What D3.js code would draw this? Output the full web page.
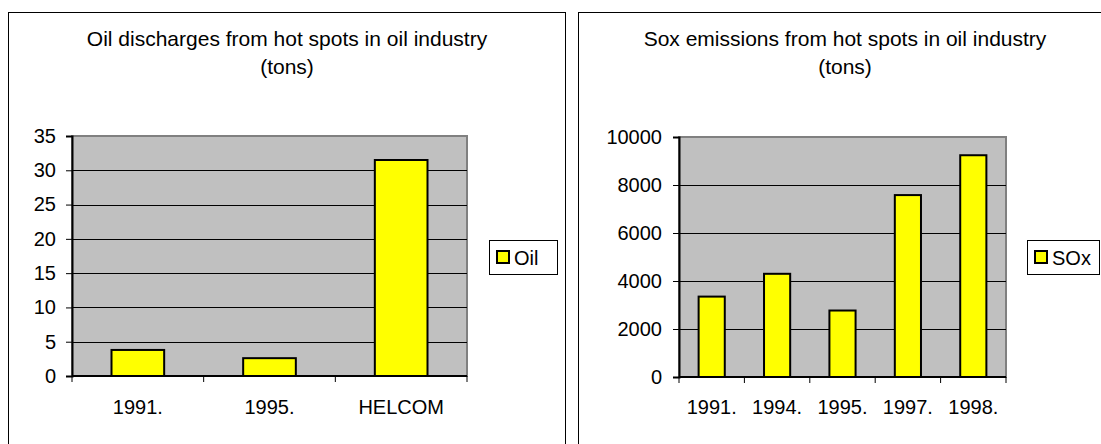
<!DOCTYPE html>
<html>
<head>
<meta charset="utf-8">
<script src="https://cdn.jsdelivr.net/npm/d3@7"></script>
<style>
  body { margin: 0; background: #fff; }
  text { font-family: "Liberation Sans", Arial, sans-serif; fill: #000; }
</style>
</head>
<body>
<svg id="chart" width="1101" height="444"></svg>
<script>
// oil discharges (tons)
const oilCategories = ["1991.", "1995.", "HELCOM"];
const oilValues = [3.8, 2.6, 31.5];
const oilTicks = [0, 5, 10, 15, 20, 25, 30, 35];
const oilTitle = ["Oil discharges from hot spots in oil industry", "(tons)"];
const oilLegend = "Oil";

// sox emissions (tons)
const soxCategories = ["1991.", "1994.", "1995.", "1997.", "1998."];
const soxValues = [3350, 4300, 2770, 7580, 9240];
const soxTicks = [0, 2000, 4000, 6000, 8000, 10000];
const soxTitle = ["Sox emissions from hot spots in oil industry", "(tons)"];
const soxLegend = "SOx";

const svg = d3.select("#chart");
svg.append("rect").attr("width", 1101).attr("height", 444).attr("fill", "#fff");

function drawPanel(opt) {
    const g = svg.append("g");

    // outer frame (bottom edge is off the picture)
    g.append("rect")
        .attr("x", opt.frame[0] + 0.5).attr("y", 12.5)
        .attr("width", opt.frame[1] - opt.frame[0]).attr("height", 460)
        .attr("fill", "none").attr("stroke", "#000").attr("stroke-width", 1);

    // title
    opt.title.forEach((t, i) => {
        g.append("text")
            .attr("x", opt.titleX).attr("y", 46 + i * 28)
            .attr("text-anchor", "middle")
            .style("font-size", "21px")
            .text(t);
    });

    const x = d3.scaleBand()
        .domain(opt.categories)
        .range([opt.plot.left, opt.plot.right])
        .paddingInner(0.6).paddingOuter(0.3);

    const y = d3.scaleLinear()
        .domain([0, opt.ticks[opt.ticks.length - 1]])
        .range([opt.plot.bottom, opt.plot.top]);

    // plot area
    g.append("rect")
        .attr("x", opt.plot.left).attr("y", opt.plot.top)
        .attr("width", opt.plot.right - opt.plot.left)
        .attr("height", opt.plot.bottom - opt.plot.top)
        .attr("fill", "#c0c0c0").attr("stroke", "#808080").attr("stroke-width", 2);

    // gridlines
    g.selectAll(".grid").data(opt.ticks.slice(1, -1)).enter().append("line")
        .attr("x1", opt.plot.left).attr("x2", opt.plot.right)
        .attr("y1", d => Math.round(y(d)) + 0.5).attr("y2", d => Math.round(y(d)) + 0.5)
        .attr("stroke", "#000").attr("stroke-width", 1);

    // bars
    g.selectAll(".bar").data(opt.values).enter().append("rect")
        .attr("x", (d, i) => x(opt.categories[i]))
        .attr("y", d => y(d))
        .attr("width", x.bandwidth())
        .attr("height", d => opt.plot.bottom - y(d))
        .attr("fill", "#ffff00").attr("stroke", "#000").attr("stroke-width", 2);

    // y axis
    const yAxis = d3.axisLeft(y).tickValues(opt.ticks).tickFormat(d3.format("d"))
        .tickSize(6).tickPadding(opt.tickPad);
    const ya = g.append("g")
        .attr("transform", "translate(" + opt.plot.left + ",0)")
        .call(yAxis);
    ya.select(".domain").attr("stroke", "#000").attr("stroke-width", 2);
    ya.selectAll("text").style("font-size", "20px");

    // x axis: ticks at category boundaries
    const step = (opt.plot.right - opt.plot.left) / opt.categories.length;
    const bounds = d3.range(opt.categories.length + 1).map(i => opt.plot.left + i * step);
    const xa = g.append("g");
    xa.append("line")
        .attr("x1", opt.plot.left).attr("x2", opt.plot.right)
        .attr("y1", opt.plot.bottom).attr("y2", opt.plot.bottom)
        .attr("stroke", "#000").attr("stroke-width", 2);
    xa.selectAll(".xt").data(bounds).enter().append("line")
        .attr("x1", d => d).attr("x2", d => d)
        .attr("y1", opt.plot.bottom).attr("y2", opt.plot.bottom + 6)
        .attr("stroke", "#000").attr("stroke-width", 1);
    xa.selectAll(".xl").data(opt.categories).enter().append("text")
        .attr("x", d => x(d) + x.bandwidth() / 2)
        .attr("y", 414)
        .attr("text-anchor", "middle")
        .style("font-size", "20px")
        .text(d => d);

    // legend
    const lg = g.append("g");
    lg.append("rect")
        .attr("x", opt.legend[0] + 0.5).attr("y", 240.5)
        .attr("width", opt.legend[1]).attr("height", 34)
        .attr("fill", "#fff").attr("stroke", "#000").attr("stroke-width", 1);
    lg.append("rect")
        .attr("x", opt.legend[0] + 8).attr("y", 251)
        .attr("width", 12).attr("height", 12)
        .attr("fill", "#ffff00").attr("stroke", "#000").attr("stroke-width", 2);
    lg.append("text")
        .attr("x", opt.legend[0] + 25).attr("y", 264.5)
        .style("font-size", "20px")
        .text(opt.legendText);
}

drawPanel({
    frame: [8, 565], titleX: 287, tickPad: 10,
    plot: { left: 72, right: 467, top: 136, bottom: 376 },
    categories: oilCategories, values: oilValues, ticks: oilTicks,
    title: oilTitle, legend: [489, 68], legendText: oilLegend
});

drawPanel({
    frame: [578, 1130], titleX: 845, tickPad: 11,
    plot: { left: 679, right: 1006, top: 137, bottom: 377 },
    categories: soxCategories, values: soxValues, ticks: soxTicks,
    title: soxTitle, legend: [1027, 72], legendText: soxLegend
});
</script>
</body>
</html>
